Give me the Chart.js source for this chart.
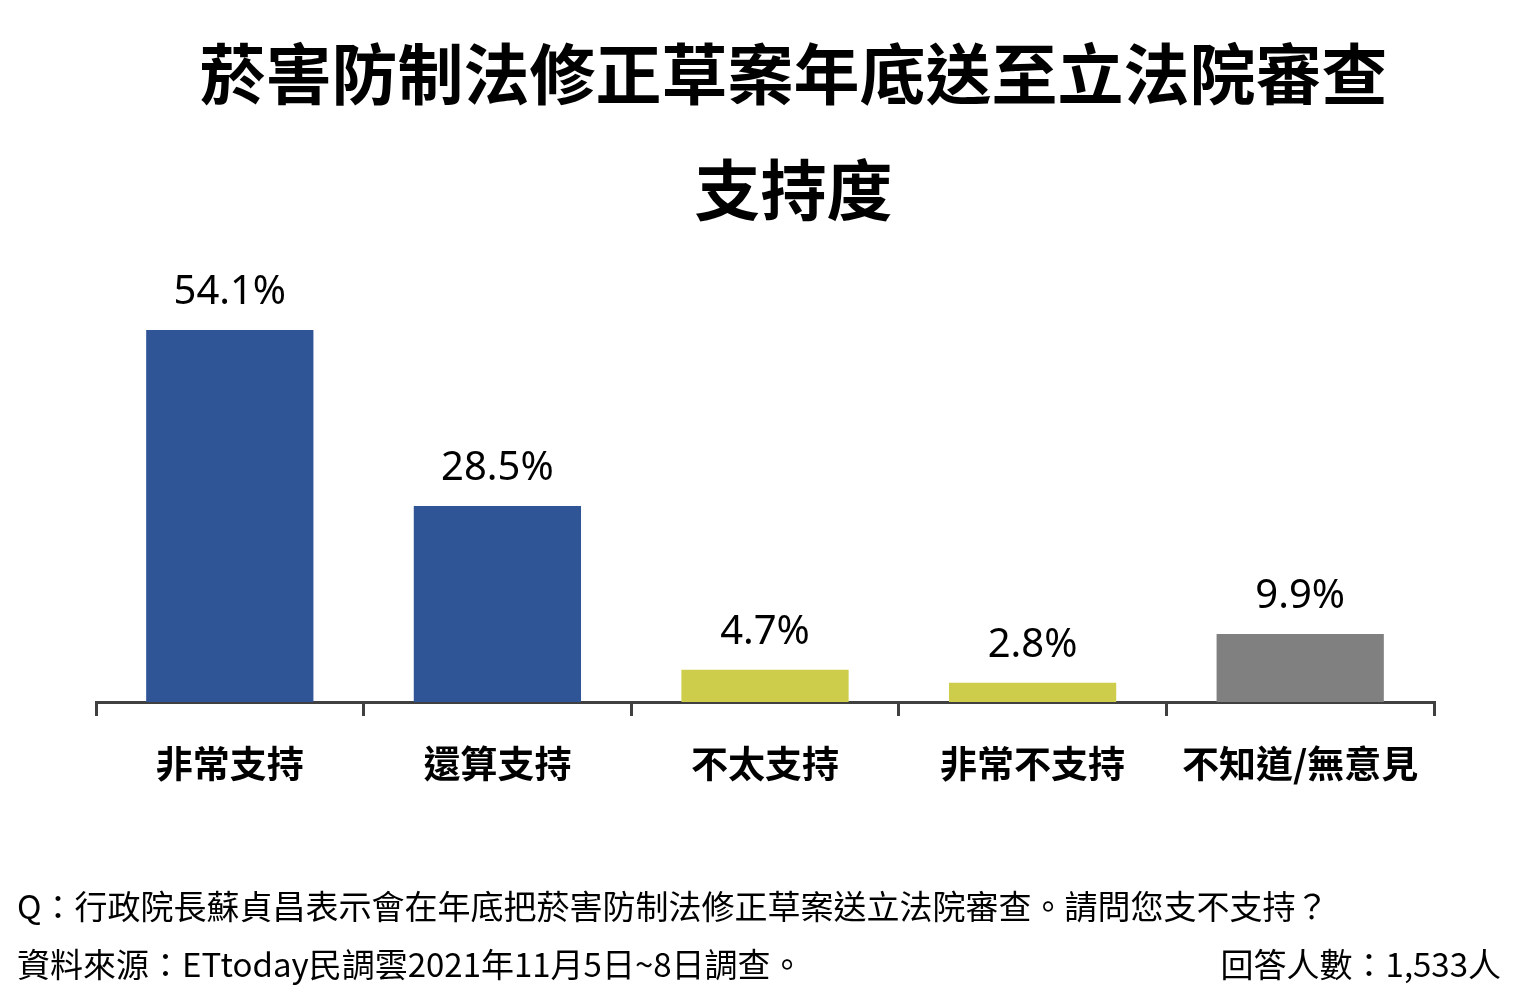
<!DOCTYPE html>
<html lang="zh-Hant">
<head>
<meta charset="UTF-8">
<title>菸害防制法修正草案年底送至立法院審查 支持度</title>
<script src="https://cdn.jsdelivr.net/npm/chart.js"></script>
<style>
    body {
        margin: 0;
        width: 1527px;
        height: 997px;
        background: #fff;
        font-family: "Noto Sans CJK TC", "Noto Sans", sans-serif;
        position: relative;
        overflow: hidden;
    }
    .title {
        position: absolute;
        left: 60px;
        width: 1467px;
        text-align: center;
        font-size: 66px;
        font-weight: bold;
        color: #000;
        line-height: 1;
    }
    .note {
        position: absolute;
        font-size: 33px;
        color: #000;
        line-height: 1;
        white-space: nowrap;
    }
    #chartBox {
        position: absolute;
        left: 0;
        top: 0;
        width: 1527px;
        height: 997px;
    }
</style>
</head>
<body>
    <div class="title" style="top:37px">菸害防制法修正草案年底送至立法院審查</div>
    <div class="title" style="top:153px">支持度</div>

    <div id="chartBox"><canvas id="chart"></canvas></div>

    <div class="note" style="left:17px; top:889px">Q：行政院長蘇貞昌表示會在年底把菸害防制法修正草案送立法院審查。請問您支不支持？</div>
    <div class="note" style="left:17px; top:947px">資料來源：ETtoday民調雲2021年11月5日~8日調查。</div>
    <div class="note" style="right:26px; top:947px">回答人數：1,533人</div>

<script>
    const categories = ['非常支持', '還算支持', '不太支持', '非常不支持', '不知道/無意見'];
    const percents = [54.1, 28.5, 4.7, 2.8, 9.9];
    const barColors = ['#2F5597', '#2F5597', '#CDCD4B', '#CDCD4B', '#808080'];

    // draws the percentage above each bar
    const valueLabels = {
        id: 'valueLabels',
        afterDatasetsDraw(chart) {
            const ctx = chart.ctx;
            const meta = chart.getDatasetMeta(0);
            ctx.save();
            ctx.font = '40px "Noto Sans", "Noto Sans CJK TC", sans-serif';
            ctx.fillStyle = '#000';
            ctx.textAlign = 'center';
            ctx.textBaseline = 'alphabetic';
            meta.data.forEach((bar, i) => {
                ctx.fillText(percents[i].toFixed(1) + '%', bar.x, bar.y - 26);
            });
            ctx.restore();
        }
    };

    new Chart(document.getElementById('chart'), {
        type: 'bar',
        data: {
            labels: categories,
            datasets: [{
                data: percents,
                backgroundColor: barColors,
                categoryPercentage: 1,
                barPercentage: 0.625
            }]
        },
        options: {
            responsive: true,
            maintainAspectRatio: false,
            animation: false,
            layout: {
                padding: { left: 96, right: 93, top: 260, bottom: 0 }
            },
            plugins: {
                legend: { display: false },
                tooltip: { enabled: false }
            },
            scales: {
                x: {
                    afterFit(scale) { scale.height = 997 - 702; },
                    border: { display: true, color: '#404040', width: 3 },
                    grid: {
                        offset: true,
                        drawOnChartArea: false,
                        tickLength: 14,
                        color: '#404040',
                        lineWidth: 3
                    },
                    ticks: {
                        color: '#000',
                        padding: 26,
                        font: { family: '"Noto Sans CJK TC", sans-serif', size: 37, weight: 'bold' }
                    }
                },
                y: {
                    display: false,
                    min: 0,
                    max: 64.28
                }
            }
        },
        plugins: [valueLabels]
    });
</script>
</body>
</html>
